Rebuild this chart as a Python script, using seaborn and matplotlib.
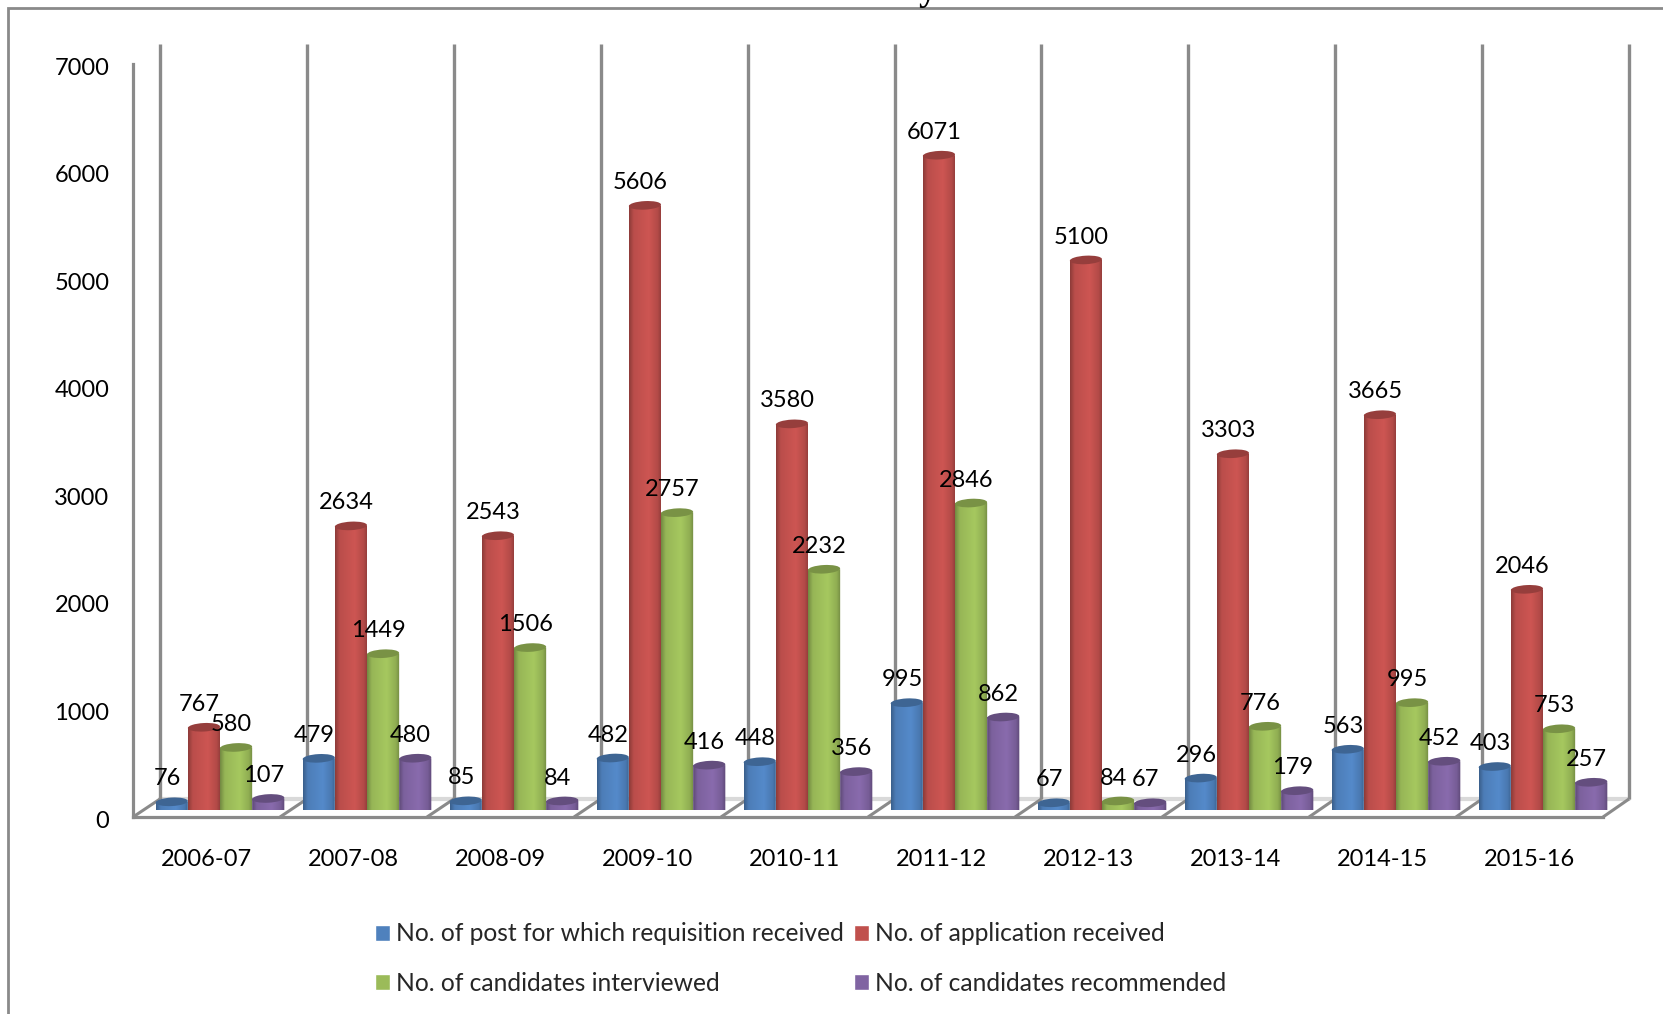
import numpy as np
import pandas as pd
import seaborn as sns
import matplotlib.pyplot as plt
import matplotlib.colors as mcolors
from matplotlib.patches import Ellipse
from matplotlib.path import Path
from matplotlib.transforms import ScaledTranslation

years = ["2006-07", "2007-08", "2008-09", "2009-10", "2010-11",
         "2011-12", "2012-13", "2013-14", "2014-15", "2015-16"]
posts = [76, 479, 85, 482, 448, 995, 67, 296, 563, 403]
applications = [767, 2634, 2543, 5606, 3580, 6071, 5100, 3303, 3665, 2046]
interviewed = [580, 1449, 1506, 2757, 2232, 2846, 84, 776, 995, 753]
recommended = [107, 480, 84, 416, 356, 862, 67, 179, 452, 257]
series_names = ["No. of post for which requisition received", "No. of application received",
                "No. of candidates interviewed", "No. of candidates recommended"]
colors = ["#4f81bd", "#c0504d", "#9bbb59", "#8064a2"]
y_ticks = [0, 1000, 2000, 3000, 4000, 5000, 6000, 7000]

W, H = 1663, 1014
GRAY = "#8a8a8a"
FONT = "Lato"
LABEL_SIZE = 17


def px_axes(fig, left, right, bottom, top):
    return fig.add_axes([left / W, 1 - bottom / H, (right - left) / W, (bottom - top) / H])


def shade(base):
    rgb = np.array(mcolors.to_rgb(base))
    dark = rgb * 0.74
    light = np.clip(rgb * 1.07, 0, 1)
    return mcolors.LinearSegmentedColormap.from_list(
        "cyl", [(0, dark), (0.14, rgb * 0.97), (0.6, light), (0.88, rgb * 0.93), (1, dark)])


sns.set_theme(style="white")
plt.rcParams["font.family"] = [FONT, "DejaVu Sans"]

df = pd.DataFrame({"Year": years * 4,
                   "Series": np.repeat(series_names, len(years)),
                   "Value": posts + applications + interviewed + recommended})

fig = plt.figure(figsize=(W / 100, H / 100), dpi=100)

# frame, back walls and floor, in pixel coordinates
bg = fig.add_axes([0, 0, 1, 1], zorder=0)
bg.set_xlim(0, W)
bg.set_ylim(H, 0)
bg.axis("off")
bg.plot([8, 8, W], [H, 8, 8], color=GRAY, lw=2, solid_joinstyle="miter")
bg.plot([160, 1629], [799, 799], color="#d9d9d9", lw=3)
for i in range(len(years) + 1):
    wall_x = 160 + 146.9 * i
    bg.plot([wall_x, wall_x], [44, 799], color=GRAY, lw=2.4, solid_capstyle="butt")
    bg.plot([133 + 147 * i, wall_x], [817, 799], color=GRAY, lw=2.2, solid_capstyle="butt")

# front plane: value axis and category labels
front = px_axes(fig, 133, 1603, 817, 64)
front.set_zorder(1)
front.patch.set_alpha(0)
front.set_xlim(-0.5, 9.5)
front.set_ylim(0, 7000)
front.set_xticks(range(len(years)), years)
front.set_yticks(y_ticks)
front.tick_params(axis="both", length=0, labelsize=LABEL_SIZE, labelcolor="black")
front.tick_params(axis="x", pad=23)
front.tick_params(axis="y", pad=17)
nudge = ScaledTranslation(0, -1.5 / 72, fig.dpi_scale_trans)
for tick_label in front.get_yticklabels():
    tick_label.set_transform(tick_label.get_transform() + nudge)
for side in ["top", "right"]:
    front.spines[side].set_visible(False)
for side in ["left", "bottom"]:
    front.spines[side].set_color(GRAY)
    front.spines[side].set_linewidth(2.3)

# the bars sit on the floor, a little behind the front plane
ax = px_axes(fig, 146.5, 1616.5, 810, 55)
ax.set_zorder(2)
ax.patch.set_alpha(0)
sns.barplot(data=df, x="Year", y="Value", hue="Series", palette=colors, width=0.875, gap=0,
            order=years, hue_order=series_names, ax=ax, saturation=1)
ax.set_xlim(-0.5, 9.5)
ax.set_ylim(0, 7000)
ax.axis("off")

units_per_px = 7000 / 755
for container, base in zip(ax.containers, colors):
    cmap = shade(base)
    gradient = np.linspace(0, 1, 64).reshape(1, -1)
    top_color = tuple(np.array(mcolors.to_rgb(base)) * 0.78)
    for bar in container:
        x, w, h = bar.get_x(), bar.get_width(), bar.get_height()
        bar.set_visible(False)
        drop = 3 * units_per_px
        t = np.linspace(1, -1, 30)
        outline = [(x, h), (x + w, h)] + [(x + w / 2 + w / 2 * v, -drop * np.sqrt(1 - v ** 2)) for v in t] + [(x, h)]
        body = ax.imshow(gradient, cmap=cmap, extent=(x, x + w, -drop, h), aspect="auto", zorder=2)
        body.set_clip_path(Path(outline), transform=ax.transData)
        body.set_clip_on(True)
        cap_place = ScaledTranslation(x + w / 2, h, ax.transData)
        ax.add_patch(Ellipse((0, 0), w * 147 / 100, 0.085, angle=3, facecolor=top_color, edgecolor="none",
                             transform=fig.dpi_scale_trans + cap_place, zorder=3, clip_on=False))
        ax.annotate(f"{int(h)}", (x + w / 2, h), xytext=(-3.3, 16.5), textcoords="offset points",
                    ha="center", va="center", fontsize=LABEL_SIZE, color="black", zorder=5,
                    annotation_clip=False)

ax.set_xlim(-0.5, 9.5)
ax.set_ylim(0, 7000)

# legend reads across the rows, matplotlib fills it by columns
old_legend = ax.get_legend()
handles = list(old_legend.legend_handles)
order = [0, 2, 1, 3]
ax.legend([handles[i] for i in order], [series_names[i] for i in order],
          loc="center left", bbox_to_anchor=(375 / W, 1 - 958.5 / H), bbox_transform=fig.transFigure,
          ncol=2, frameon=False, fontsize=17.7, handlelength=0.62, handleheight=0.62,
          handletextpad=0.25, columnspacing=0.39, labelspacing=1.08, borderpad=0, borderaxespad=0)

# tail of the cut off title
fig.text(928 / W, 1, "y", family="Liberation Serif", fontweight="bold", fontsize=26,
         ha="center", va="baseline", color="black")

fig.savefig("out.png", dpi=100)
